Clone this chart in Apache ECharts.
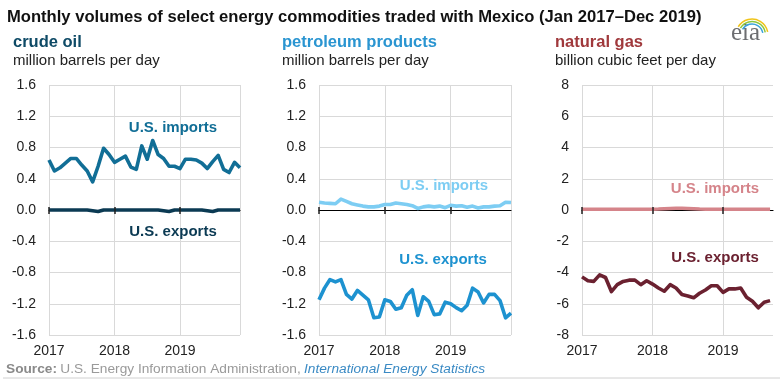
<!DOCTYPE html>
<html><head><meta charset="utf-8">
<script src="https://cdn.jsdelivr.net/npm/echarts@6/dist/echarts.min.js"></script>
<style>html,body{margin:0;padding:0;background:#fff}#c{width:783px;height:385px}</style>
</head><body><div id="c"></div>
<script>
// ---- data (monthly, Jan 2017 onward) ----
const yearLabels = ['2017', '2018', '2019'];
const yearTickMonths = [0, 12, 24];

const crudeImports = [0.64,0.50,0.54,0.60,0.66,0.66,0.575,0.50,0.36,0.56,0.79,0.71,
                      0.61,0.65,0.69,0.55,0.52,0.82,0.65,0.89,0.71,0.66,0.56,0.56,
                      0.53,0.65,0.65,0.64,0.60,0.53,0.62,0.70,0.52,0.48,0.61,0.54];
const crudeExports = [0,0,0,0,0,0,0,0,-0.01,-0.02,0,0,
                      0,0,0,0,0,0,0,0,0,-0.01,-0.02,0,
                      0,0,0,0,0,-0.01,-0.02,0,0,0,0,0];

const petroImports = [0.10,0.09,0.085,0.08,0.14,0.11,0.08,0.065,0.05,0.04,0.04,0.05,
                      0.07,0.07,0.09,0.08,0.07,0.055,0.02,0.04,0.05,0.04,0.05,0.03,
                      0.06,0.05,0.055,0.035,0.05,0.025,0.04,0.04,0.05,0.055,0.10,0.095];
const petroExports = [-1.15,-1.00,-0.89,-0.92,-0.89,-1.08,-1.14,-1.03,-1.09,-1.15,-1.38,-1.37,
                      -1.15,-1.17,-1.27,-1.25,-1.09,-1.02,-1.35,-1.11,-1.17,-1.34,-1.33,-1.18,
                      -1.20,-1.25,-1.29,-1.22,-1.00,-1.05,-1.19,-1.08,-1.08,-1.16,-1.38,-1.32];

const gasImports = [0.05,0.05,0.05,0.05,0.05,0.05,0.05,0.05,0.05,0.05,0.05,0.05,
                    0.05,0.06,0.08,0.10,0.11,0.11,0.10,0.08,0.06,0.05,0.05,0.05,
                    0.05,0.05,0.05,0.05,0.05,0.05,0.05,0.05,0.05];
const gasExports = [-4.28,-4.53,-4.57,-4.15,-4.32,-5.22,-4.78,-4.57,-4.49,-4.49,-4.78,-4.53,
                    -4.74,-4.99,-5.20,-4.78,-4.99,-5.41,-5.50,-5.62,-5.33,-5.12,-4.85,-4.85,
                    -5.27,-5.05,-5.05,-4.99,-5.58,-5.84,-6.26,-5.90,-5.80];

// ---- layout / style ----
const FONT = "'Liberation Sans', Arial, Helvetica, sans-serif";
const GRID_TOP = 85, GRID_H = 250;
const panels = [
  { name: 'crude oil', unit: 'million barrels per day', nameColor: '#0e4a66', textX: 13,
    left: 49, width: 191, xMax: 35, yMin: -1.6, yMax: 1.6, yInt: 0.4, dec: 1, showMaxLine: true,
    imports: crudeImports, exports: crudeExports, impColor: '#116e96', expColor: '#0b3a53',
    impLabel: [173, 128], expLabel: [173, 232] },
  { name: 'petroleum products', unit: 'million barrels per day', nameColor: '#2a95d1', textX: 282,
    left: 319, width: 192, xMax: 35, yMin: -1.6, yMax: 1.6, yInt: 0.4, dec: 1, showMaxLine: true,
    imports: petroImports, exports: petroExports, impColor: '#7dcdf3', expColor: '#1d92d0',
    impLabel: [444, 186], expLabel: [443, 260] },
  { name: 'natural gas', unit: 'billion cubic feet per day', nameColor: '#a0393c', textX: 555,
    left: 582, width: 191, xMax: 32.5, yMin: -8, yMax: 8, yInt: 2, dec: 0, showMaxLine: false,
    imports: gasImports, exports: gasExports, impColor: '#d5848a', expColor: '#6b2130',
    impLabel: [715, 189], expLabel: [715, 258] }
];

const grid = [], xAxis = [], yAxis = [], series = [], graphic = [];
panels.forEach((p, i) => {
  grid.push({ left: p.left, width: p.width, top: GRID_TOP, height: GRID_H });
  const base = xAxis.length;
  xAxis.push({ gridIndex: i, type: 'value', min: 0, max: p.xMax, interval: 12, position: 'bottom',
    axisLine: { show: false, onZero: false }, axisTick: { show: false },
    axisLabel: { margin: 9, color: '#222', fontSize: 14, fontFamily: FONT,
      formatter: v => (v % 12 === 0 && yearLabels[v / 12] !== undefined) ? yearLabels[v / 12] : '' },
    splitLine: { show: true, showMaxLine: p.showMaxLine, lineStyle: { color: '#d9d9d9', width: 1 } } });
  xAxis.push({ gridIndex: i, type: 'value', min: 0, max: p.xMax, interval: 12, position: 'bottom', z: 1,
    axisLine: { show: true, onZero: true, onZeroAxisIndex: i, lineStyle: { color: '#000', width: 1.2 } },
    axisTick: { show: false }, axisLabel: { show: false }, splitLine: { show: false } });
  [false, true].forEach(inside => {
    xAxis.push({ gridIndex: i, type: 'value', min: 0, max: p.xMax, interval: 12, position: 'bottom', z: 10,
      axisLine: { show: false, onZero: true, onZeroAxisIndex: i },
      axisTick: { show: true, inside: inside, length: inside ? 3 : 4, customValues: yearTickMonths,
        lineStyle: { color: '#222', width: 1.5 } },
      axisLabel: { show: false }, splitLine: { show: false } });
  });
  yAxis.push({ gridIndex: i, type: 'value', min: p.yMin, max: p.yMax, interval: p.yInt,
    axisLine: { show: false }, axisTick: { show: false },
    axisLabel: { margin: 13, color: '#222', fontSize: 14, fontFamily: FONT,
      formatter: v => (Math.abs(v) < 1e-9 ? 0 : v).toFixed(p.dec) },
    splitLine: { show: true, lineStyle: { color: '#d9d9d9', width: 1 } } });
  const mk = (arr, color) => ({ type: 'line', xAxisIndex: base, yAxisIndex: i, z: 3,
    data: arr.map((v, k) => [k, v]), showSymbol: false, symbol: 'none', clip: true,
    lineStyle: { color: color, width: 3.6, join: 'round' }, itemStyle: { color: color } });
  series.push(mk(p.imports, p.impColor));
  series.push(mk(p.exports, p.expColor));

  graphic.push({ type: 'text', left: p.textX, top: 34, style: { text: p.name, fill: p.nameColor,
    font: 'bold 16.5px ' + FONT } });
  graphic.push({ type: 'text', left: p.textX, top: 53, style: { text: p.unit, fill: '#222',
    font: '15px ' + FONT } });
  [[p.impLabel, 'U.S. imports', p.impColor], [p.expLabel, 'U.S. exports', p.expColor]].forEach(d => {
    graphic.push({ type: 'text', x: d[0][0], y: d[0][1], z: 20, style: { text: d[1], fill: d[2],
      font: 'bold 15px ' + FONT, align: 'center', verticalAlign: 'middle' } });
  });
});

graphic.push({ type: 'text', left: 7, top: 9, style: {
  text: 'Monthly volumes of select energy commodities traded with Mexico (Jan 2017\u2013Dec 2019)',
  fill: '#111', font: 'bold 16.6px ' + FONT } });
graphic.push({ type: 'text', left: 6, top: 362, style: {
  text: '{b|Source:} {n|U.S. Energy Information Administration,} {i|International Energy Statistics}',
  rich: { b: { font: 'bold 13.7px ' + FONT, fill: '#8a8a8a' },
          n: { font: '13.7px ' + FONT, fill: '#9a9a9a' },
          i: { font: 'italic 13.7px ' + FONT, fill: '#3a8ac4' } } } });
graphic.push({ type: 'line', shape: { x1: 3, y1: 378, x2: 780, y2: 378 },
  style: { stroke: '#d0d0d0', lineWidth: 1 } });
// eia logo
graphic.push({ type: 'text', left: 731, top: 21, style: { text: 'eia', fill: '#6d6e71',
  font: '25px "Liberation Serif", "DejaVu Serif", serif' } });
[['#f0c419', 16], ['#8cc63f', 13.5], ['#3ba3dc', 11]].forEach(a => {
  graphic.push({ type: 'arc', shape: { cx: 752, cy: 35, r: a[1], startAngle: -2.6, endAngle: -0.2, clockwise: true },
    style: { stroke: a[0], lineWidth: 1.5, fill: null } });
});

const chart = echarts.init(document.getElementById('c'), null, { renderer: 'canvas' });
chart.setOption({ animation: false, backgroundColor: '#fff', grid, xAxis, yAxis, series, graphic });
</script></body></html>
